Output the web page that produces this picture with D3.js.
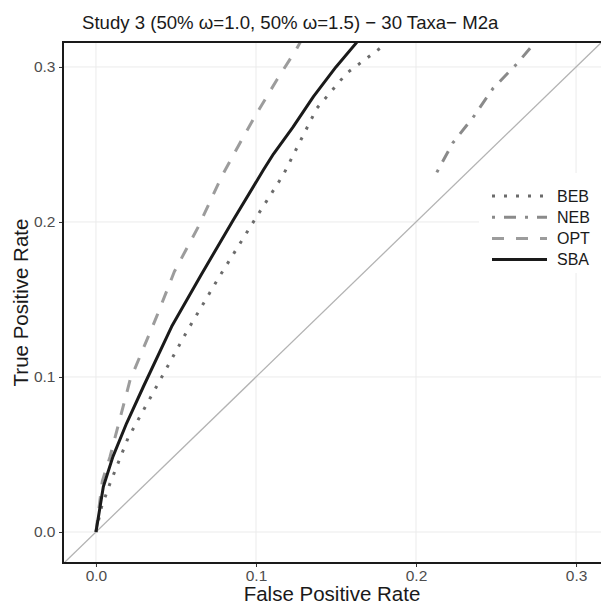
<!DOCTYPE html>
<html>
<head>
<meta charset="UTF-8">
<script src="https://d3js.org/d3.v7.min.js"></script>
<style>
  body { margin: 0; background: #fff; }
  svg { font-family: "Liberation Sans", Arial, sans-serif; }
</style>
</head>
<body>
<svg id="chart" width="601" height="606"></svg>
<script>
// ROC curves: [false positive rate, true positive rate]
const methods = ["BEB", "NEB", "OPT", "SBA"];
const bebPoints = [[0, 0], [0.0035, 0.0163], [0.0088, 0.0314], [0.020, 0.0605], [0.039, 0.096],
  [0.0567, 0.1292], [0.0765, 0.1637], [0.1004, 0.2034], [0.117, 0.2303], [0.138, 0.2733],
  [0.1567, 0.296], [0.1775, 0.312], [0.181, 0.3165]];
const nebPoints = [[0.213, 0.232], [0.223, 0.251], [0.236, 0.268], [0.248, 0.286],
  [0.263, 0.302], [0.272, 0.313], [0.275, 0.3165]];
const optPoints = [[0, 0], [0.004, 0.033], [0.0088, 0.0486], [0.0213, 0.098], [0.0379, 0.1389],
  [0.049, 0.168], [0.064, 0.197], [0.0785, 0.2292], [0.09, 0.251], [0.1004, 0.270],
  [0.113, 0.2916], [0.125, 0.311], [0.128, 0.3165]];
const sbaPoints = [[0, 0], [0.0046, 0.0292], [0.0106, 0.0486], [0.0192, 0.0703], [0.0296, 0.0937],
  [0.0473, 0.1325], [0.0655, 0.1655], [0.0858, 0.2013], [0.1046, 0.2335],
  [0.111, 0.244], [0.123, 0.261], [0.136, 0.281], [0.150, 0.300], [0.1635, 0.3165]];
const xTicks = [0, 0.1, 0.2, 0.3];
const yTicks = [0, 0.1, 0.2, 0.3];
const titleText = "Study 3 (50% \u03c9=1.0, 50% \u03c9=1.5) \u2212 30 Taxa\u2212 M2a";

const series = [bebPoints, nebPoints, optPoints, sbaPoints];

// line styles, like ggplot's linetypes scaled by line width
const styles = {
  BEB: { color: "#6b6b6b", width: 3, dash: "3 9" },
  NEB: { color: "#8a8a8a", width: 3, dash: "3 9 12 9" },
  OPT: { color: "#9c9c9c", width: 3, dash: "12 12" },
  SBA: { color: "#1a1a1a", width: 3, dash: null }
};

const panel = { left: 63, top: 42, right: 601, bottom: 563 };

const svg = d3.select("#chart");

const x = d3.scaleLinear().domain([-0.0206, 0.3156]).range([panel.left, panel.right]);
const y = d3.scaleLinear().domain([-0.02, 0.3161]).range([panel.bottom, panel.top]);

svg.append("defs").append("clipPath").attr("id", "clip")
  .append("rect")
  .attr("x", panel.left).attr("y", panel.top)
  .attr("width", panel.right - panel.left).attr("height", panel.bottom - panel.top);

// grid
const grid = svg.append("g").attr("stroke", "#ebebeb").attr("stroke-width", 1);
grid.selectAll(".gx").data(xTicks).join("line")
  .attr("x1", d => x(d)).attr("x2", d => x(d))
  .attr("y1", panel.top).attr("y2", panel.bottom);
grid.selectAll(".gy").data(yTicks).join("line")
  .attr("y1", d => y(d)).attr("y2", d => y(d))
  .attr("x1", panel.left).attr("x2", panel.right);

const plot = svg.append("g").attr("clip-path", "url(#clip)");

// diagonal y = x
plot.append("line")
  .attr("x1", x(-0.05)).attr("y1", y(-0.05))
  .attr("x2", x(0.35)).attr("y2", y(0.35))
  .attr("stroke", "#b3b3b3").attr("stroke-width", 1.3);

const line = d3.line().x(d => x(d[0])).y(d => y(d[1])).curve(d3.curveLinear);

methods.forEach((m, i) => {
  const s = styles[m];
  plot.append("path")
    .datum(series[i])
    .attr("d", line)
    .attr("fill", "none")
    .attr("stroke", s.color)
    .attr("stroke-width", s.width)
    .attr("stroke-dasharray", s.dash)
    .attr("stroke-linejoin", "round");
});

// legend
const legend = svg.append("g");
legend.append("rect")
  .attr("x", 479).attr("y", 173).attr("width", 122).attr("height", 100)
  .attr("fill", "#fff");
methods.forEach((m, i) => {
  const s = styles[m];
  const ly = 196 + i * 21.2;
  legend.append("line")
    .attr("x1", 492).attr("x2", 547).attr("y1", ly).attr("y2", ly)
    .attr("stroke", s.color).attr("stroke-width", s.width)
    .attr("stroke-dasharray", s.dash);
  legend.append("text")
    .attr("x", 557).attr("y", ly + 5.8)
    .attr("font-size", 16).attr("fill", "#1a1a1a")
    .text(m);
});

// panel border (top, left, bottom)
svg.append("path")
  .attr("d", `M${panel.right + 2},${panel.top}H${panel.left}V${panel.bottom}H${panel.right + 2}`)
  .attr("fill", "none").attr("stroke", "#1a1a1a").attr("stroke-width", 2);

// axes
const xAxis = svg.append("g").attr("transform", `translate(0,${panel.bottom + 1})`)
  .call(d3.axisBottom(x).tickValues(xTicks).tickFormat(d3.format(".1f")).tickSize(3).tickPadding(2.5));
const yAxis = svg.append("g").attr("transform", `translate(${panel.left - 1},0)`)
  .call(d3.axisLeft(y).tickValues(yTicks).tickFormat(d3.format(".1f")).tickSize(3).tickPadding(3.5));
[xAxis, yAxis].forEach(a => {
  a.select(".domain").remove();
  a.selectAll(".tick line").attr("stroke", "#333");
  a.selectAll(".tick text").attr("fill", "#4d4d4d").attr("font-size", 15.5)
    .attr("font-family", "Liberation Sans, Arial, sans-serif");
});

// titles
svg.append("text")
  .attr("x", (panel.left + panel.right) / 2).attr("y", 601)
  .attr("text-anchor", "middle").attr("font-size", 20.5).attr("fill", "#1a1a1a")
  .text("False Positive Rate");
svg.append("text")
  .attr("transform", `translate(28,${(panel.top + panel.bottom) / 2}) rotate(-90)`)
  .attr("text-anchor", "middle").attr("font-size", 20.5).attr("fill", "#1a1a1a")
  .text("True Positive Rate");
svg.append("text")
  .attr("x", 82).attr("y", 29)
  .attr("font-size", 18.6).attr("fill", "#1a1a1a")
  .text(titleText);
</script>
</body>
</html>
